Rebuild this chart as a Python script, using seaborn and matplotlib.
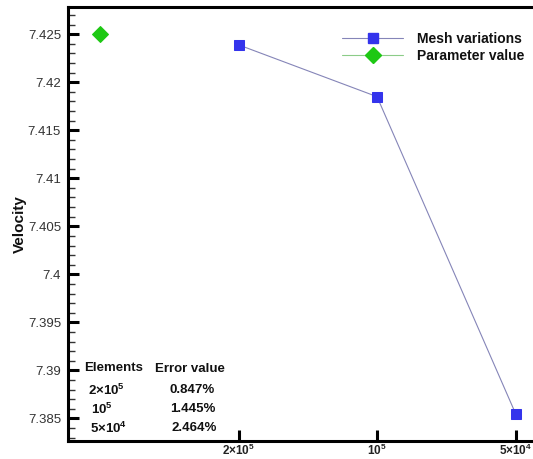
import matplotlib
matplotlib.use("Agg")
import matplotlib.pyplot as plt
import seaborn as sns
import pandas as pd
from matplotlib.ticker import MultipleLocator, FixedLocator
from matplotlib.lines import Line2D

# ---- data ----
mesh_labels = [r"$\mathbf{2{\times}10^5}$", r"$\mathbf{10^5}$", r"$\mathbf{5{\times}10^4}$"]
mesh_velocity = [7.4239, 7.4185, 7.3855]
param_velocity = [7.425]
table_elements = [r"$\mathbf{2{\times}10^5}$", r"$\mathbf{10^5}$", r"$\mathbf{5{\times}10^4}$"]
table_errors = ["0.847%", "1.445%", "2.464%"]

sns.set_theme(style="white")
plt.rcParams['font.family'] = ['Liberation Sans', 'DejaVu Sans']
plt.rcParams['mathtext.fontset'] = 'custom'
plt.rcParams['mathtext.rm'] = 'Liberation Sans'
plt.rcParams['mathtext.bf'] = 'Liberation Sans:bold'

fig = plt.figure(figsize=(5.33, 4.59), dpi=100)
ax = fig.add_axes([68/533, 1 - 440.7/459, (533 - 68)/533, (440.7 - 7)/459])

mesh_df = pd.DataFrame({"x": list(range(1, len(mesh_velocity) + 1)), "v": mesh_velocity})
param_df = pd.DataFrame({"x": [0], "v": param_velocity})

mesh_col = "#3434ec"
param_col = "#1ec814"
sns.lineplot(data=mesh_df, x="x", y="v", ax=ax, color="#8585b8", linewidth=0.8,
             marker="s", markersize=7.5, markerfacecolor=mesh_col, markeredgecolor=mesh_col)
sns.lineplot(data=param_df, x="x", y="v", ax=ax, color="#8ccc88", linewidth=0.8,
             marker="D", markersize=8.5, markerfacecolor=param_col, markeredgecolor=param_col)

ax.set_xlim(-0.231, 3.126)
ax.set_ylim(7.38267, 7.42784)

ax.xaxis.set_major_locator(FixedLocator([1, 2, 3]))
ax.set_xticklabels(mesh_labels)
ax.yaxis.set_major_locator(MultipleLocator(0.005))
ax.yaxis.set_minor_locator(MultipleLocator(0.001))
ax.yaxis.set_major_formatter(matplotlib.ticker.FuncFormatter(lambda v, p: f"{v:.3f}".rstrip('0').rstrip('.')))

ax.tick_params(axis='y', which='major', direction='in', length=8, width=2.2, labelsize=9.5,
               colors='black', labelcolor='#333333', pad=5, left=True)
ax.tick_params(axis='y', which='minor', direction='in', length=5, width=1, left=True, color='#333333')
ax.tick_params(axis='x', which='major', direction='in', length=8, width=2.2, labelsize=8.5,
               pad=1.5, bottom=True, colors='black', labelcolor='#222222')

for s in ['left', 'bottom', 'top']:
    ax.spines[s].set_visible(True)
    ax.spines[s].set_color('black')
    ax.spines[s].set_linewidth(2.2)
ax.spines['right'].set_visible(False)

ax.set_xlabel("")
ax.set_ylabel("Velocity", fontsize=11, fontweight='bold', labelpad=1, color='#111111')

handles = [
    Line2D([], [], color="#8585b8", linewidth=0.8, marker="s", markersize=7.5,
           markerfacecolor=mesh_col, markeredgecolor=mesh_col),
    Line2D([], [], color="#8ccc88", linewidth=0.8, marker="D", markersize=8.5,
           markerfacecolor=param_col, markeredgecolor=param_col),
]
leg = ax.legend(handles, ["Mesh variations", "Parameter value"], loc='upper right',
                bbox_to_anchor=(1.009, 0.972), frameon=False, handlelength=4.4,
                handletextpad=1.0, labelspacing=0.25, prop={'weight': 'bold', 'size': 10})
for t in leg.get_texts():
    t.set_color('#111111')

# table text (figure pixel coordinates)
def ftxt(x, y, s, **kw):
    fig.text(x/533, 1 - y/459, s, fontsize=9.5, fontweight='bold', va='center', ha='left',
             color='#111111', **kw)

ftxt(84, 368, "Elements")
ftxt(155, 369, "Error value")
rows_y = [390, 409, 428]
el_x = [88, 91, 90]
err_x = [170, 170, 172]
for i in range(len(table_elements)):
    ftxt(el_x[i], rows_y[i], table_elements[i])
    ftxt(err_x[i], rows_y[i], table_errors[i])

fig.savefig("out.png", dpi=100)
